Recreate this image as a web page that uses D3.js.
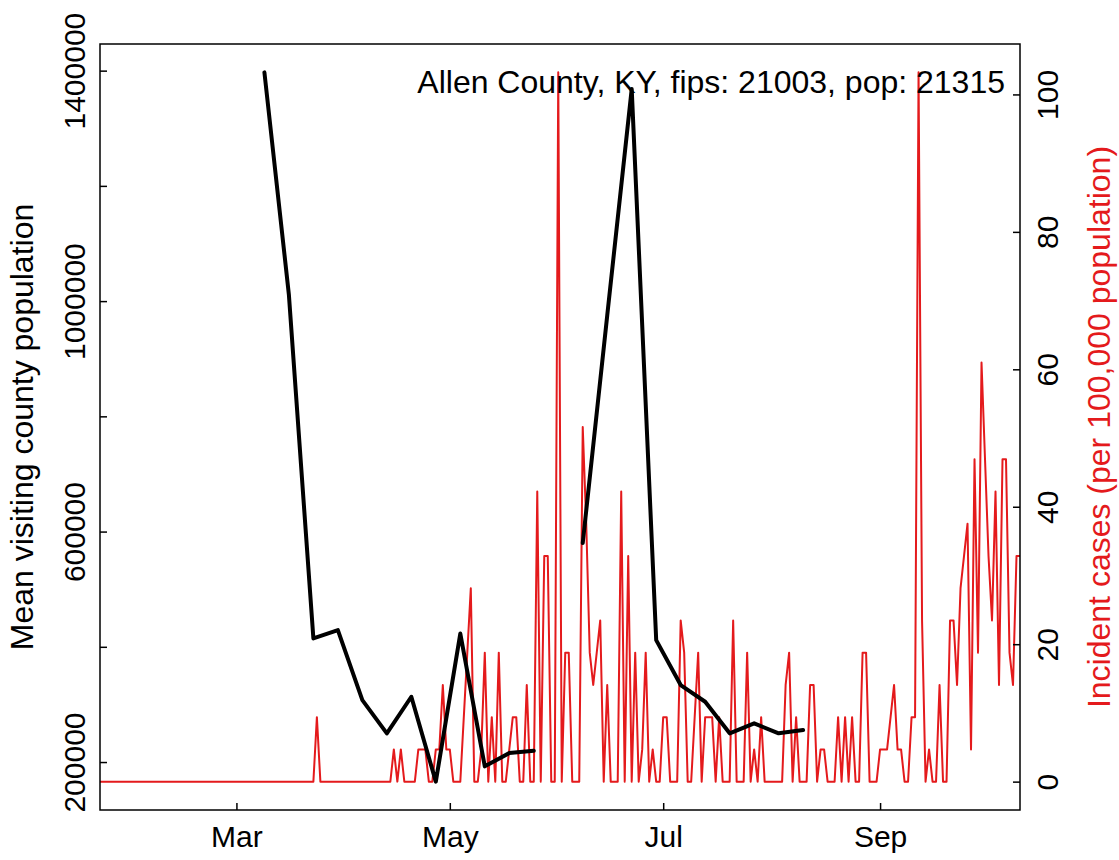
<!DOCTYPE html>
<html>
<head>
<meta charset="utf-8">
<script src="https://cdn.jsdelivr.net/npm/d3@7"></script>
<style>
  body { margin: 0; background: #fff; }
  text { font-family: "Liberation Sans", Arial, sans-serif; }
</style>
</head>
<body>
<div id="chart"></div>
<script>
const countyLabel = "Allen County, KY, fips: 21003, pop: 21315";
const leftTitle = "Mean visiting county population";
const rightTitle = "Incident cases (per 100,000 population)";

// daily incident cases per 100k, one value per day starting 2020-01-22
const caseStart = "2020-01-22";
const incidentRate = [
  0,0,0,0,0,0,0,0,0,0,0,0,
  0,0,0,0,0,0,0,0,0,0,0,0,
  0,0,0,0,0,0,0,0,0,0,0,0,
  0,0,0,0,0,0,0,0,0,0,0,0,
  0,0,0,0,0,0,0,0,0,0,0,0,
  0,0,9.38,0,0,0,0,0,0,0,0,0,
  0,0,0,0,0,0,0,0,0,0,0,0,
  4.69,0,4.69,0,0,0,0,4.69,4.69,4.69,0,0,
  4.69,4.69,14.07,4.69,4.69,0,0,0,9.38,18.77,28.15,0,
  0,4.69,18.77,0,9.38,0,18.77,0,0,4.69,9.38,9.38,
  0,0,14.07,0,0,42.22,0,32.84,32.84,0,0,103.21,
  0,18.77,18.77,0,0,0,51.61,37.53,18.77,14.07,18.77,23.46,
  0,14.07,0,0,0,42.22,0,32.84,0,18.77,0,4.69,
  18.77,0,4.69,0,0,9.38,9.38,0,0,0,23.46,18.77,
  0,0,9.38,18.77,0,9.38,9.38,9.38,0,9.38,0,0,
  0,23.46,0,0,0,18.77,0,4.69,0,9.38,0,0,
  0,0,0,0,14.07,18.77,0,9.38,0,0,0,14.07,
  14.07,0,4.69,4.69,0,0,0,9.38,0,9.38,0,9.38,
  0,0,18.77,18.77,0,0,0,4.69,4.69,4.69,9.38,14.07,
  4.69,4.69,0,0,9.38,9.38,103.21,23.46,0,4.69,0,0,
  14.07,0,0,23.46,23.46,14.07,28.15,32.84,37.53,4.69,46.92,18.77,
  60.99,46.92,32.84,23.46,42.22,14.07,46.92,46.92,18.77,14.07,32.84,32.84
];

// weekly mean visiting county population
const visitDates = [
  "2020-03-09","2020-03-16","2020-03-23","2020-03-30","2020-04-06","2020-04-13",
  "2020-04-20","2020-04-27","2020-05-04","2020-05-11","2020-05-18","2020-05-25",
  "2020-06-01","2020-06-08","2020-06-15","2020-06-22","2020-06-29","2020-07-06",
  "2020-07-13","2020-07-20","2020-07-27","2020-08-03","2020-08-10"
];
const visitPop = [
  1397000, 1011000, 414600, 429000, 307500, 249800,
  313300, 166000, 423000, 192500, 215600, 219600,
  null, 580000, 975000, 1368000, 411600, 333600,
  304600, 249800, 267100, 249800, 255600
];

const leftTicks = [200000, 400000, 600000, 800000, 1000000, 1200000, 1400000];
const leftLabelled = [200000, 600000, 1000000, 1400000];
const rightTicks = [0, 20, 40, 60, 80, 100];
const monthTicks = ["2020-03-01", "2020-05-01", "2020-07-01", "2020-09-01"];
const monthLabels = ["Mar", "May", "Jul", "Sep"];

const width = 1119, height = 860;
const margin = {top: 44, right: 99, bottom: 50, left: 100};
const innerWidth = width - margin.left - margin.right;
const innerHeight = height - margin.top - margin.bottom;

const parse = d3.timeParse("%Y-%m-%d");
const day0 = parse(caseStart);
const cases = incidentRate.map((v, i) => ({date: d3.timeDay.offset(day0, i), v}));
const visits = visitDates.map((d, i) => ({date: parse(d), v: visitPop[i]}));

// R style axis range: data range padded by 4% each side
function padded(ext) {
  const p = (ext[1] - ext[0]) * 0.04;
  return [ext[0] - p, ext[1] + p];
}

const svg = d3.select("#chart").append("svg")
  .attr("width", width)
  .attr("height", height)
  .append("g")
  .attr("transform", `translate(${margin.left},${margin.top})`);

const x = d3.scaleTime()
  .domain(d3.extent(cases, d => d.date))
  .range([0, innerWidth]);
const yLeft = d3.scaleLinear()
  .domain(padded(d3.extent(visitPop.filter(v => v != null))))
  .range([innerHeight, 0]);
const yRight = d3.scaleLinear()
  .domain(padded([0, d3.max(incidentRate)]))
  .range([innerHeight, 0]);

const red = "#E41A1C";

// red incident line
svg.append("path")
  .datum(cases)
  .attr("fill", "none")
  .attr("stroke", red)
  .attr("stroke-width", 2)
  .attr("stroke-linejoin", "round")
  .attr("d", d3.line().x(d => x(d.date)).y(d => yRight(d.v)));

// black visiting population line (gap where missing)
svg.append("path")
  .datum(visits)
  .attr("fill", "none")
  .attr("stroke", "#000")
  .attr("stroke-width", 4)
  .attr("stroke-linejoin", "round")
  .attr("stroke-linecap", "round")
  .attr("d", d3.line().defined(d => d.v != null).x(d => x(d.date)).y(d => yLeft(d.v)));

// axes, ticks pointing inwards
const xAxis = svg.append("g")
  .attr("transform", `translate(0,${innerHeight})`)
  .call(d3.axisBottom(x)
    .tickValues(monthTicks.map(parse))
    .tickSizeInner(-7).tickSizeOuter(0)
    .tickFormat((d, i) => monthLabels[i]));
xAxis.selectAll("text").attr("y", 37).attr("dy", 0);

const lAxis = svg.append("g")
  .call(d3.axisLeft(yLeft)
    .tickValues(leftTicks)
    .tickSizeInner(-7).tickSizeOuter(0)
    .tickFormat(d => leftLabelled.includes(d) ? d3.format("d")(d) : ""));
lAxis.selectAll("text").filter(function() { return this.textContent === ""; }).remove();
lAxis.selectAll("text")
  .attr("transform", "rotate(-90)")
  .attr("x", 0).attr("y", -15).attr("dy", 0)
  .attr("text-anchor", "middle");

const rAxis = svg.append("g")
  .attr("transform", `translate(${innerWidth},0)`)
  .call(d3.axisRight(yRight)
    .tickValues(rightTicks)
    .tickSizeInner(-7).tickSizeOuter(0));
rAxis.selectAll("text")
  .attr("transform", "rotate(-90)")
  .attr("x", 0).attr("y", 38).attr("dy", 0)
  .attr("text-anchor", "middle");

[xAxis, lAxis, rAxis].forEach(a => {
  a.select(".domain").remove();
  a.selectAll("line").attr("stroke", "#000").attr("stroke-width", 1.5);
  a.selectAll("text").attr("font-size", 30).attr("fill", "#000")
    .style("font-family", "'Liberation Sans', Arial, sans-serif");
});

// plot box
svg.append("rect")
  .attr("width", innerWidth)
  .attr("height", innerHeight)
  .attr("fill", "none")
  .attr("stroke", "#000")
  .attr("stroke-width", 1.5);

// axis titles
svg.append("text")
  .attr("transform", "rotate(-90)")
  .attr("x", -innerHeight / 2)
  .attr("y", 33 - margin.left)
  .attr("text-anchor", "middle")
  .attr("font-size", 32)
  .text(leftTitle);

svg.append("text")
  .attr("transform", "rotate(-90)")
  .attr("x", -innerHeight / 2)
  .attr("y", 1110 - margin.left)
  .attr("text-anchor", "middle")
  .attr("font-size", 32)
  .attr("fill", red)
  .text(rightTitle);

// county annotation
svg.append("text")
  .attr("x", 1005 - margin.left)
  .attr("y", 93 - margin.top)
  .attr("text-anchor", "end")
  .attr("font-size", 32)
  .text(countyLabel);
</script>
</body>
</html>
